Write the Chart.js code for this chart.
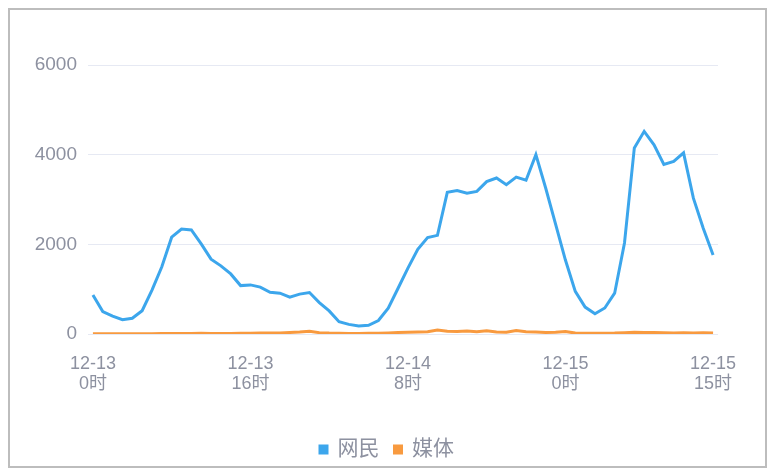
<!DOCTYPE html>
<html><head><meta charset="utf-8">
<script src="https://cdn.jsdelivr.net/npm/chart.js@4/dist/chart.umd.min.js"></script>
<style>
html,body{margin:0;padding:0;background:#fff;}
#wrap{position:relative;width:774px;height:476px;overflow:hidden;}
#frame{position:absolute;left:8px;top:8px;width:759px;height:460px;border:2px solid #bdbdbd;box-sizing:border-box;pointer-events:none;}
canvas{position:absolute;left:0;top:0;}
</style></head><body>
<div id="wrap"><canvas id="c" width="774" height="476"></canvas><div id="frame"></div></div>
<script>
const categories = [
 "12-13 0时","12-13 1时","12-13 2时","12-13 3时","12-13 4时","12-13 5时","12-13 6时","12-13 7时",
 "12-13 8时","12-13 9时","12-13 10时","12-13 11时","12-13 12时","12-13 13时","12-13 14时","12-13 15时",
 "12-13 16时","12-13 17时","12-13 18时","12-13 19时","12-13 20时","12-13 21时","12-13 22时","12-13 23时",
 "12-14 0时","12-14 1时","12-14 2时","12-14 3时","12-14 4时","12-14 5时","12-14 6时","12-14 7时",
 "12-14 8时","12-14 9时","12-14 10时","12-14 11时","12-14 12时","12-14 13时","12-14 14时","12-14 15时",
 "12-14 16时","12-14 17时","12-14 18时","12-14 19时","12-14 20时","12-14 21时","12-14 22时","12-14 23时",
 "12-15 0时","12-15 1时","12-15 2时","12-15 3时","12-15 4时","12-15 5时","12-15 6时","12-15 7时",
 "12-15 8时","12-15 9时","12-15 10时","12-15 11时","12-15 12时","12-15 13时","12-15 14时","12-15 15时"
];
const shownTicks = ["12-13 0时","12-13 16时","12-14 8时","12-15 0时","12-15 15时"];
const netizens = [
 870,500,400,320,350,520,980,1500,
 2160,2340,2320,2010,1670,1520,1340,1080,
 1095,1045,930,910,820,890,925,700,
 515,275,215,180,195,300,575,1020,
 1470,1890,2150,2200,3160,3200,3140,3180,
 3400,3480,3330,3500,3430,4000,3250,2450,
 1650,950,600,450,580,910,2030,4150,
 4520,4220,3780,3850,4040,3030,2360,1760
];
const media = [
 5,5,5,5,5,8,8,10,
 10,12,12,18,12,10,12,15,
 18,25,20,22,35,45,60,30,
 20,15,12,12,15,18,25,35,
 40,45,50,90,60,55,65,50,
 70,45,40,80,50,45,35,40,
 55,20,15,15,15,20,30,40,
 35,35,30,25,30,25,30,25
];
const yTicks = [0,2000,4000,6000];

const FONT = "'Liberation Sans','Noto Sans CJK SC',sans-serif";
const GRAY = '#8d91a0';

new Chart(document.getElementById('c'), {
  type: 'line',
  data: {
    labels: categories,
    datasets: [
      {label:'网民', data: netizens, borderColor:'#3ca6ec', backgroundColor:'#3ca6ec', borderWidth:3, pointRadius:0, tension:0, fill:false},
      {label:'媒体', data: media, borderColor:'#f89a3f', backgroundColor:'#f89a3f', borderWidth:3, pointRadius:0, tension:0, fill:false}
    ]
  },
  options: {
    responsive:false, animation:false,
    layout:{padding:{left:0,right:0,top:65,bottom:6}},
    plugins:{
      legend:{position:'bottom', labels:{boxWidth:7, boxHeight:7, padding:15, color:GRAY, font:{family:FONT,size:21}}},
      tooltip:{enabled:false}
    },
    scales:{
      x:{
        offset:true,
        grid:{display:false, drawTicks:false},
        border:{display:false},
        ticks:{autoSkip:false, maxRotation:0, minRotation:0, padding:20, color:GRAY,
          font:{family:FONT,size:18,lineHeight:1.1},
          callback:function(v,i){const l=categories[i]; return shownTicks.includes(l)? l.split(' ') : null;}},
        afterFit:function(s){s.height=90;}
      },
      y:{
        min:0, max:6000,
        grid:{color:'#e6e9f3', drawTicks:false},
        border:{display:false},
        afterBuildTicks:function(s){s.ticks = yTicks.map(v=>({value:v}));},
        ticks:{padding:11, color:GRAY, font:{family:FONT,size:19}, callback:function(v){return String(v);}},
        afterFit:function(s){s.width=88;}
      },
      yR:{
        position:'right', min:0, max:6000,
        grid:{display:false, drawTicks:false},
        border:{display:false},
        ticks:{display:false},
        afterFit:function(s){s.width=56;}
      }
    }
  }
});
</script>
</body></html>
